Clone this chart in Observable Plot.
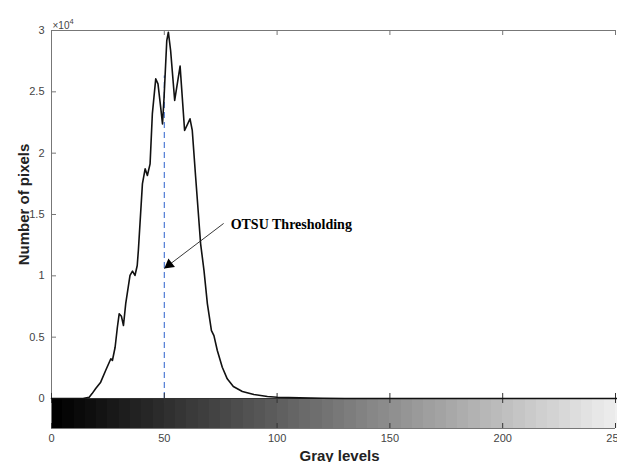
<!DOCTYPE html>
<html>
<head>
<meta charset="utf-8">
<script src="https://cdn.jsdelivr.net/npm/d3@7"></script>
<script src="https://cdn.jsdelivr.net/npm/@observablehq/plot@0.6"></script>
<style>
  html, body { margin: 0; padding: 0; background: #fff; }
  svg { display: block; }
</style>
</head>
<body>
<div id="chart"></div>
<script>
// Gray levels and pixel counts
const levels = [0, 10, 14, 15, 16.7, 18, 19.6, 21.8, 24, 26.3, 27, 28.2, 29.2, 30, 31, 31.9, 32.9, 34.8, 35.9, 37, 38, 38.5,
  40.3, 41.5, 42.5, 43.7, 44.7, 46.2, 47.2, 48.4, 49.2, 49.9, 51.1, 51.8, 52.8, 54.6, 57, 59, 61.4, 62.4, 63.9,
  66.1, 67.6, 69.1, 70.9, 72, 73.5, 75.7, 77.9, 80.6, 84.6, 89.7, 95.7, 100, 110, 120, 130, 255];
const counts = [0, 0, 0, 40, 100, 400, 815, 1330, 2280, 3240, 3100, 4180, 5810, 6900, 6700, 5950, 7740, 10030, 10380, 10030, 10840, 12070,
  17500, 18720, 18180, 19130, 23200, 26060, 25650, 23740, 22390, 24560, 29180, 29860, 28370, 24300, 27100, 21850, 22800, 21850, 18040,
  12610, 10430, 7720, 5540, 5130, 3910, 2550, 1600, 980, 570, 330, 160, 100, 50, 20, 0, 0];

const xTicks = [0, 50, 100, 150, 200, 250];
const yTicks = [0, 5000, 10000, 15000, 20000, 25000, 30000];
const yTickLabels = ["0", "0.5", "1", "1.5", "2", "2.5", "3"];

const otsuThreshold = 50;
const otsuLineTop = 26300;
const annotation = {text: "OTSU Thresholding", x1: 76.3, y1: 14270, x2: 50, y2: 10600};

// gray-level colour bar bands (start level of each band)
const bandStarts = d3.range(0, 256, 5);
const bandWidth = 5;
const barBottom = -2446;

const hist = levels.map((l, i) => ({level: l, count: counts[i]}));
const bands = bandStarts.map((s, i) => ({x1: s, x2: s + bandWidth, g: Math.round(i / (bandStarts.length - 1) * 245)}));

const axisColor = "#777";
const textColor = "#444";

const chart = Plot.plot({
  width: 617,
  height: 462,
  marginLeft: 51,
  marginRight: 2,
  marginTop: 30,
  marginBottom: 34,
  style: {fontFamily: "'Liberation Sans', Arial, Helvetica, sans-serif", background: "#fff"},
  x: {domain: [0, 250]},
  y: {domain: [barBottom, 30000]},
  marks: [
    // gray colour bar
    Plot.rect(bands, {x1: "x1", x2: "x2", y1: barBottom, y2: 0, fill: d => `rgb(${d.g},${d.g},${d.g})`, shapeRendering: "crispEdges"}),
    // frame lines
    Plot.ruleY([30000], {stroke: axisColor, strokeWidth: 1}),
    Plot.ruleY([barBottom], {stroke: axisColor, strokeWidth: 1}),
    Plot.ruleX([0], {y1: barBottom, y2: 30000, stroke: axisColor, strokeWidth: 1}),
    // inward ticks
    Plot.ruleX(xTicks, {x: d => d, y1: 30000, y2: 30000, insetBottom: -5, stroke: axisColor}),
    Plot.ruleX(xTicks, {x: d => d, y1: barBottom, y2: barBottom, insetTop: -5, stroke: "#333"}),
    Plot.ruleY(yTicks, {y: d => d, x1: 0, x2: 0, insetRight: -5, stroke: axisColor}),
    // OTSU threshold
    Plot.ruleX([otsuThreshold], {y1: 0, y2: otsuLineTop, stroke: "#3f6fd1", strokeWidth: 1.1, strokeDasharray: "6,4"}),
    // zero line
    Plot.ruleY([0], {stroke: "#333", strokeWidth: 1}),
    Plot.ruleX(xTicks, {x: d => d, y1: 0, y2: 0, insetTop: -5, insetBottom: -5, stroke: "#333"}),
    // histogram
    Plot.line(hist, {x: "level", y: "count", stroke: "#111", strokeWidth: 1.6, strokeLinejoin: "round"}),
    // annotation arrow
    Plot.link([annotation], {x1: "x1", y1: "y1", x2: "x2", y2: "y2", stroke: "#222", strokeWidth: 0.9}),
    Plot.dot([annotation], {x: "x2", y: "y2", symbol: "triangle", r: 4, rotate: -127.3, fill: "#000", stroke: null, dx: 4.9, dy: -3.8}),
    Plot.text([annotation], {x: "x1", y: "y1", text: "text", textAnchor: "start", dx: 7, dy: 1, fontFamily: "'Liberation Serif', 'Times New Roman', serif", fontWeight: "bold", fontSize: 14, fill: "#000"}),
    // axis labels
    Plot.axisX({ticks: xTicks, tickSize: 0, tickPadding: 6, fontSize: 11, color: textColor, label: null}),
    Plot.axisY({ticks: yTicks, tickSize: 0, tickPadding: 7, fontSize: 11, color: textColor, label: null,
      tickFormat: d => yTickLabels[yTicks.indexOf(d)]}),
    Plot.text(["×10"], {frameAnchor: "top-left", textAnchor: "start", lineAnchor: "bottom", dx: 1, dy: -2, fontSize: 10, fill: textColor}),
    Plot.text(["4"], {frameAnchor: "top-left", textAnchor: "start", lineAnchor: "bottom", dx: 18, dy: -7, fontSize: 7.5, fill: textColor}),
    Plot.text(["Number of pixels"], {frameAnchor: "left", textAnchor: "middle", rotate: -90, dx: -27, dy: -25, fontSize: 15, fontWeight: "bold", fill: "#222"}),
    Plot.text(["Gray levels"], {frameAnchor: "bottom", textAnchor: "middle", lineAnchor: "bottom", dy: 32, dx: 6, fontSize: 15, fontWeight: "bold", fill: "#222"})
  ]
});

document.getElementById("chart").appendChild(chart);
</script>
</body>
</html>
